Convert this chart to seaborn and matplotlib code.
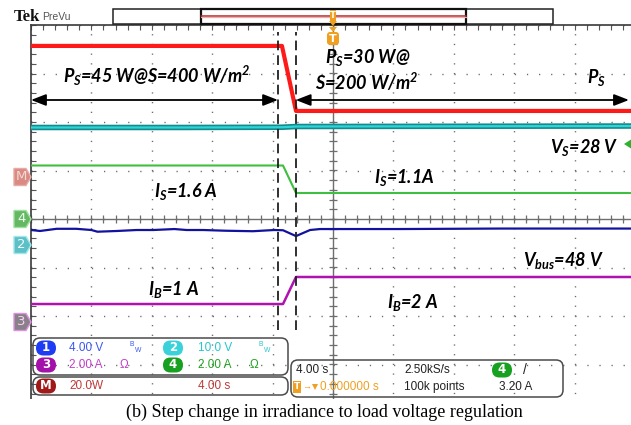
import numpy as np
import pandas as pd
import matplotlib
matplotlib.use("Agg")
import matplotlib.pyplot as plt
import seaborn as sns
from matplotlib.transforms import Affine2D
from matplotlib.patches import Rectangle, FancyBboxPatch, Polygon
from matplotlib.ticker import MultipleLocator

# ---------------- waveform data (time in s, relative to the trigger) ----------------
ps_time = [-20.0, -3.38, -2.45, 19.8]          # PV power, W
ps_watts = [45, 45, 30, 30]

vs_time = [-20.0, -10.0, -3.38, -2.45, 8.0, 19.8]   # PV voltage, V
vs_volts = [27.9, 27.9, 27.95, 28.1, 28.15, 28.2]

is_time = [-20.0, -3.31, -2.45, 19.8]          # PV current, A
is_amps = [1.6, 1.6, 1.1, 1.1]

vbus_time = [-20.0, -19.4, -18.3, -17.0, -16.0, -15.6, -14.3, -13.0, -11.9, -10.5,
             -9.7, -8.6, -7.1, -5.3, -3.9, -3.31, -2.45, -1.52, -0.86, 0.0, 4.4, 11.1, 19.8]
vbus_volts = [48.0, 47.92, 48.1, 48.1, 48.0, 47.86, 47.92, 48.0, 48.0, 48.08,
              48.0, 48.0, 47.94, 47.9, 48.0, 47.98, 47.5, 48.0, 48.08, 48.08, 48.08, 48.12, 48.12]

ib_time = [-20.0, -3.31, -2.45, 19.8]          # battery current, A
ib_amps = [1, 1, 2, 2]

step_marks = [-3.64, -2.47]                     # dashed cursors around the irradiance step

# vertical display setting of each trace: (units per division, zero position in divisions)
display = {
    "P_S": (11.19, -0.453),
    "V_S": (10.0, -0.903),
    "I_S": (0.882, -0.711),
    "V_bus": (4.0, -12.227),
    "I_B": (1.795, -2.310),
}

frames = []
for name, t, v in [("P_S", ps_time, ps_watts), ("V_S", vs_time, vs_volts),
                   ("I_S", is_time, is_amps), ("V_bus", vbus_time, vbus_volts),
                   ("I_B", ib_time, ib_amps)]:
    scale, pos = display[name]
    frames.append(pd.DataFrame({"time": t, "div": pos + np.asarray(v, float) / scale, "trace": name}))
traces = pd.concat(frames, ignore_index=True)

# ---------------- figure ----------------
sns.set_style("white")
plt.rcParams["lines.scale_dashes"] = False
plt.rcParams["mathtext.fontset"] = "custom"
for k in ("it", "rm", "bf", "sf"):
    plt.rcParams["mathtext." + k] = "Lato:bold:italic"

W, H = 631, 425
fig = plt.figure(figsize=(W / 100, H / 100), dpi=100)
fig.patch.set_facecolor("white")
PX = Affine2D().scale(1 / W, -1 / H).translate(0, 1) + fig.transFigure

GX0, GX1, GY0, GY1 = 31, 635, 25, 413
ax = fig.add_axes([GX0 / W, 1 - GY1 / H, (GX1 - GX0) / W, (GY1 - GY0) / H])
ax.set_facecolor("white")

# graticule
ax.xaxis.set_major_locator(MultipleLocator(4))
ax.xaxis.set_minor_locator(MultipleLocator(0.8))
ax.yaxis.set_major_locator(MultipleLocator(1))
ax.yaxis.set_minor_locator(MultipleLocator(0.2))
ax.xaxis.grid(True, which="major", color="#6a6a6a", lw=1.0, linestyle=(0, (0.9, 6.08)))
ax.yaxis.grid(True, which="major", color="#6a6a6a", lw=1.0, linestyle=(0, (0.9, 7.8)))
ax.set_axisbelow(True)
ax.tick_params(which="both", direction="in", length=3.5, width=0.8, color="#555555",
               top=True, bottom=False, left=True, right=False,
               labeltop=False, labelbottom=False, labelleft=False)
for side in ("right", "bottom"):
    ax.spines[side].set_visible(False)
for side in ("left", "top"):
    ax.spines[side].set_color("#3a3a3a")
    ax.spines[side].set_linewidth(1.2)

ax.axhline(0, color="#6e6e6e", lw=1.0, zorder=1)
ax.axvline(0, color="#6e6e6e", lw=1.0, zorder=1)
minor_x = np.arange(-20, 20.01, 0.8)
minor_y = np.arange(-4, 4.01, 0.2)
ax.plot(minor_x, np.zeros_like(minor_x), ls="none", marker="|", ms=6, mew=0.9, color="#6e6e6e", zorder=1)
ax.plot(np.zeros_like(minor_y), minor_y, ls="none", marker="_", ms=6, mew=0.9, color="#6e6e6e", zorder=1)

# traces
styles = {
    "P_S": [("#ff1a1a", 3.0)],
    "V_S": [("#138a8c", 4.0), ("#2fd4d6", 1.6)],
    "I_S": [("#3fbf3f", 1.5)],
    "V_bus": [("#12129e", 1.6)],
    "I_B": [("#b012b0", 1.8)],
}
for name, layers in styles.items():
    sub = traces[traces["trace"] == name]
    for color, lw in layers:
        sns.lineplot(data=sub, x="time", y="div", color=color, lw=lw, sort=False,
                     estimator=None, ax=ax, legend=False, zorder=3)

ax.vlines(step_marks, -2.29, 3.86, colors="#202020", lw=1.3, linestyles=[(0, (7, 3.6))], zorder=4)
ax.set_xlim(-20, 20)
ax.set_ylim(-4, 4)
ax.set_xlabel("")
ax.set_ylabel("")

# power arrows
y_arr = (219 - 100) / 48.5
akw = dict(arrowstyle="<|-|>,head_length=0.9,head_width=0.35", color="black", lw=1.3,
           shrinkA=0, shrinkB=0)
ax.annotate("", xy=(-20, y_arr), xytext=(step_marks[0], y_arr), arrowprops=akw, zorder=5)
ax.annotate("", xy=(step_marks[1], y_arr), xytext=(19.6, y_arr), arrowprops=akw, zorder=5)

# annotations
lab = dict(transform=PX, fontfamily="Lato", fontweight="bold", fontstyle="italic",
           fontsize=13, ha="center", va="center", color="black", zorder=6)
fig.text(157, 76, r"$P_S$=45 W@S=400 W/m$^2$", **lab)
fig.text(368, 57, r"$P_S$=30 W@", **lab)
fig.text(367, 82, r"S=200 W/m$^2$", **lab)
fig.text(596, 77, r"$P_S$", **lab)
fig.text(584, 147, r"$V_S$=28 V", **lab)
fig.text(186, 192, r"$I_S$=1.6 A", **lab)
fig.text(404, 178, r"$I_S$=1.1A", **lab)
fig.text(174, 290, r"$I_B$=1 A", **lab)
fig.text(563, 261, r"$V_{bus}$=48 V", **lab)
fig.text(413, 303, r"$I_B$=2 A", **lab)

# channel ground markers on the left edge
def tag(yc, fill, edge, txt, tcol):
    pts = [(14, yc - 8.5), (26, yc - 8.5), (31, yc), (26, yc + 8.5), (14, yc + 8.5)]
    fig.add_artist(Polygon(pts, closed=True, transform=PX, fc=fill, ec=edge, lw=1.0, zorder=6))
    fig.text(21.5, yc, txt, transform=PX, ha="center", va="center", fontsize=9.5,
             fontfamily="DejaVu Sans", color=tcol, zorder=7)

tag(177, "#d98a82", "#e8aaa4", "M", "#f6d8d4")
tag(219, "#64b864", "#9ee09e", "4", "#eaffea")
tag(245, "#5ec0c6", "#9ee8ec", "2", "#eaffff")
tag(322, "#8a808a", "#e090e0", "3", "#f4d4f4")

# trigger level marker on the right edge
fig.add_artist(Polygon([(624, 144), (631, 139.5), (631, 148.5)], closed=True, transform=PX,
                       fc="#2fb02f", ec="none", zorder=6))

# header: logo and record bar
fig.text(14, 17, "Tek", transform=PX, fontfamily="Liberation Serif", fontweight="bold",
         fontsize=12, ha="left", va="center", color="#111111")
fig.text(42, 17, "PreVu", transform=PX, fontfamily=["Liberation Sans Narrow", "Liberation Sans"],
         fontsize=7.5, ha="left", va="center", color="#555555")
fig.add_artist(Rectangle((113, 9), 440, 15, transform=PX, fc="white", ec="#222222", lw=1.1, zorder=6))
fig.add_artist(Rectangle((201, 9), 265, 15, transform=PX, fc="none", ec="#111111", lw=1.6, zorder=6))
fig.add_artist(plt.Line2D([201, 466], [16, 16], transform=PX, color="#b52a2a", lw=1.1, zorder=7))
fig.add_artist(plt.Line2D([201, 466], [17.5, 17.5], transform=PX, color="#eab0b0", lw=0.9, zorder=7))
fig.add_artist(Rectangle((330, 10), 6, 11, transform=PX, fc="#f0a020", ec="none", zorder=8))
fig.add_artist(Polygon([(329, 21), (337, 21), (333, 26)], closed=True, transform=PX,
                       fc="#f0a020", ec="none", zorder=8))
fig.text(333, 15.5, "T", transform=PX, fontsize=6, color="white", ha="center", va="center",
         fontweight="bold", zorder=9)
fig.add_artist(Polygon([(329, 27), (337, 27), (333, 32)], closed=True, transform=PX,
                       fc="#f0a020", ec="none", zorder=8))
fig.add_artist(FancyBboxPatch((327, 32), 12, 13, boxstyle="round,pad=0,rounding_size=3",
                              transform=PX, fc="#f0a020", ec="none", zorder=8))
fig.text(333, 38.5, "T", transform=PX, fontsize=8, color="white", ha="center", va="center",
         fontweight="bold", zorder=9)

# readout boxes
for (x0, y0, w, h) in [(33, 338, 255, 37), (33, 377, 255, 18), (291, 360, 272, 37)]:
    fig.add_artist(FancyBboxPatch((x0, y0), w, h, boxstyle="round,pad=0,rounding_size=7",
                                  transform=PX, fc="none", ec="#4a4a4a", lw=1.1, zorder=6))

nar = ["Liberation Sans Narrow", "Liberation Sans"]

def pill(xc, yc, txt, fc):
    fig.add_artist(FancyBboxPatch((xc - 10, yc - 7.5), 20, 15, boxstyle="round,pad=0,rounding_size=7.5",
                                  transform=PX, fc=fc, ec="none", zorder=7))
    fig.text(xc, yc, txt, transform=PX, fontsize=8.5, fontfamily="DejaVu Sans", fontweight="bold",
             color="white", ha="center", va="center", zorder=8)

def rd(x, y, txt, col, size=8.5):
    fig.text(x, y, txt, transform=PX, fontsize=size, fontfamily=nar, color=col,
             ha="left", va="center", zorder=8)

pill(46, 348, "1", "#1f3cf5"); rd(69, 348, "4.00 V", "#3a58f0"); rd(129, 347, r"$\mathregular{^B{}_W}$", "#3a58f0", 7)
pill(173, 348, "2", "#3ad2da"); rd(198, 348, "10.0 V", "#26c6ce"); rd(258, 347, r"$\mathregular{^B{}_W}$", "#26c6ce", 7)
pill(46, 365, "3", "#a410aa"); rd(69, 365, "2.00 A", "#c23ec6"); rd(120, 365, "Ω", "#c23ec6")
pill(173, 365, "4", "#18a020"); rd(198, 365, "2.00 A", "#22a222"); rd(250, 365, "Ω", "#22a222")
pill(46, 386, "M", "#a01818"); rd(69, 386, "20.0W", "#c03838"); rd(198, 386, "4.00 s", "#c03838")

rd(296, 370, "4.00 s", "#222222"); rd(404, 370, "2.50kS/s", "#222222")
pill(502, 370, "4", "#18a020"); rd(523, 370, "/", "#222222", 10)
fig.add_artist(Rectangle((293, 381), 8, 12, transform=PX, fc="#f0a020", ec="none", zorder=7))
fig.text(297, 387, "T", transform=PX, fontsize=6.5, color="white", ha="center", va="center",
         fontweight="bold", zorder=8)
rd(302, 387, "→", "#f0a020", 6.5)
fig.add_artist(Polygon([(312, 384), (318, 384), (315, 390)], closed=True, transform=PX,
                       fc="#f0a020", ec="none", zorder=8))
rd(320, 387, "0.000000 s", "#f0a020")
rd(404, 387, "100k points", "#222222"); rd(499, 387, "3.20 A", "#222222")

# caption strip
fig.add_artist(Rectangle((0, 399), W, 26, transform=PX, fc="white", ec="none", zorder=20))
fig.text(324, 412, "(b) Step change in irradiance to load voltage regulation", transform=PX,
         fontfamily="Liberation Serif", fontsize=13, ha="center", va="center", color="black", zorder=21)

fig.savefig("out.png", dpi=100)
